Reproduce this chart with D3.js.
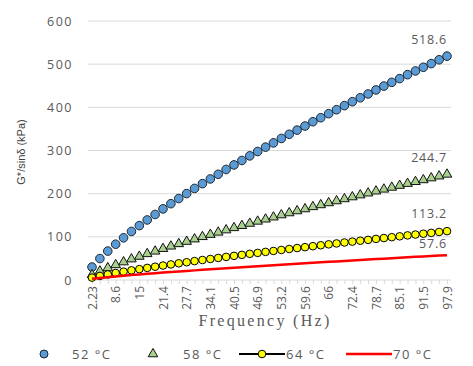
<!DOCTYPE html>
<html>
<head>
<meta charset="utf-8">
<script src="https://cdn.jsdelivr.net/npm/d3@7"></script>
<style>
  body { margin: 0; background: #fff; }
  svg { display: block; }
</style>
</head>
<body>
<svg id="svg"></svg>
<script>
// frequency categories (Hz)
const freqs = ["2.23","4.36","6.48","8.6","10.7","12.9","15","17.1","19.2","21.4","23.5","25.6",
  "27.7","29.9","32","34.1","36.2","38.4","40.5","42.6","44.8","46.9","49","51.1","53.2","55.4",
  "57.5","59.6","61.8","63.9","66","68.1","70.3","72.4","74.5","76.6","78.7","80.9","83","85.1",
  "87.3","89.4","91.5","93.6","95.8","97.9"];
const shownTicks = ["2.23","8.6","15","21.4","27.7","34.1","40.5","46.9","53.2","59.6","66",
  "72.4","78.7","85.1","91.5","97.9"];
const yTicks = [0, 100, 200, 300, 400, 500, 600];

const v52 = [29.9,49.7,67.0,82.9,97.7,112.5,126.0,139.1,151.8,164.8,176.8,188.7,200.2,212.1,
  223.2,234.1,244.9,256.1,266.6,276.9,287.6,297.7,307.8,317.6,327.9,337.6,347.2,356.7,366.7,
  375.9,385.3,394.4,404.0,413.1,422.1,431.0,440.3,449.2,457.9,466.6,475.7,484.3,492.8,501.3,
  510.2,518.6];
const v58 = [11.9,20.3,27.9,35.0,41.6,48.4,54.5,60.6,66.5,72.5,78.1,83.7,89.1,94.7,100.1,105.2,
  110.4,115.7,120.8,125.8,130.9,135.8,140.7,145.5,150.5,155.2,159.9,164.5,169.4,173.9,178.5,
  183.0,187.8,192.2,196.7,201.1,205.7,210.1,214.4,218.8,223.3,227.6,231.8,236.1,240.5,244.7];
const v64 = [5.5,9.4,12.9,16.2,19.3,22.4,25.2,28.0,30.8,33.5,36.1,38.7,41.2,43.8,46.3,48.7,51.1,
  53.5,55.9,58.2,60.6,62.8,65.1,67.3,69.6,71.8,74.0,76.1,78.3,80.5,82.6,84.7,86.9,88.9,91.0,
  93.0,95.2,97.2,99.2,101.2,103.3,105.3,107.2,109.2,111.3,113.2];
const v70 = [2.8,4.8,6.6,8.2,9.8,11.4,12.8,14.3,15.6,17.1,18.4,19.7,21.0,22.3,23.6,24.8,26.0,
  27.2,28.4,29.6,30.8,32.0,33.1,34.2,35.4,36.5,37.6,38.7,39.9,40.9,42.0,43.1,44.2,45.2,46.3,
  47.3,48.4,49.5,50.5,51.5,52.6,53.6,54.6,55.6,56.6,57.6];

const seriesNames = ["52 °C", "58 °C", "64 °C", "70 °C"];
const endLabels = ["518.6", "244.7", "113.2", "57.6"];

const w = 473, h = 366;
const svg = d3.select("#svg").attr("width", w).attr("height", h);

const x = d3.scalePoint().domain(freqs).range([92, 447]);
const y = d3.scaleLinear().domain([0, 600]).range([280, 21]);

const grey = "#595959";

// gridlines
svg.append("g")
  .selectAll("line")
  .data(yTicks.slice(1))
  .enter()
  .append("line")
  .attr("x1", 88).attr("x2", 451)
  .attr("y1", d => y(d)).attr("y2", d => y(d))
  .attr("stroke", "#d9d9d9").attr("stroke-width", 1);

// y axis labels
const yAxis = svg.append("g")
  .attr("transform", "translate(76,0)")
  .call(d3.axisLeft(y).tickValues(yTicks).tickSize(0).tickPadding(3));
yAxis.select(".domain").remove();
yAxis.selectAll("text")
  .attr("fill", grey)
  .style("font-family", "'Open Sans', sans-serif")
  .style("font-size", "12.5px")
  .style("letter-spacing", "1.5px");

// x axis
const xAxis = svg.append("g")
  .attr("transform", "translate(0,280)")
  .call(d3.axisBottom(x).tickSize(4).tickPadding(4)
    .tickFormat(d => shownTicks.includes(d) ? d : ""));
xAxis.select(".domain").attr("stroke", "#d9d9d9").attr("d", "M88,0H451");
xAxis.selectAll(".tick line").attr("stroke", "#d9d9d9");
xAxis.selectAll("text")
  .attr("fill", grey)
  .style("font-family", "'Open Sans', sans-serif")
  .style("font-size", "12px")
  .attr("transform", "rotate(-90)")
  .attr("text-anchor", "end")
  .attr("x", -6)
  .attr("y", 0)
  .attr("dy", "0.35em");

// axis titles
svg.append("text")
  .attr("x", 265).attr("y", 326)
  .attr("text-anchor", "middle")
  .attr("fill", grey)
  .style("font-family", "'Liberation Serif', serif")
  .style("font-size", "16px")
  .style("letter-spacing", "2.3px")
  .text("Frequency (Hz)");

svg.append("text")
  .attr("transform", "translate(25,152) rotate(-90)")
  .attr("text-anchor", "middle")
  .attr("fill", "#404040")
  .style("font-family", "'Liberation Sans', sans-serif")
  .style("font-size", "11px")
  .text("G*/sinδ (kPa)");

const line = d3.line().x((d, i) => x(freqs[i])).y(d => y(d));

// 52 °C circles
svg.append("g")
  .selectAll("circle")
  .data(v52)
  .enter()
  .append("circle")
  .attr("cx", (d, i) => x(freqs[i]))
  .attr("cy", d => y(d))
  .attr("r", 4.3)
  .attr("fill", "#5b9bd5")
  .attr("stroke", "#1c2833")
  .attr("stroke-width", 1);

// 58 °C triangles
const tri = d3.symbol().type(d3.symbolTriangle).size(40);
svg.append("g")
  .selectAll("path")
  .data(v58)
  .enter()
  .append("path")
  .attr("d", tri)
  .attr("transform", (d, i) => "translate(" + x(freqs[i]) + "," + y(d) + ")")
  .attr("fill", "#a9d18e")
  .attr("stroke", "#111")
  .attr("stroke-width", 1);

// 64 °C line + yellow circles
svg.append("path")
  .datum(v64)
  .attr("d", line)
  .attr("fill", "none")
  .attr("stroke", "#000")
  .attr("stroke-width", 2);
svg.append("g")
  .selectAll("circle")
  .data(v64)
  .enter()
  .append("circle")
  .attr("cx", (d, i) => x(freqs[i]))
  .attr("cy", d => y(d))
  .attr("r", 3.8)
  .attr("fill", "#ffff00")
  .attr("stroke", "#000")
  .attr("stroke-width", 1);

// 70 °C red line
svg.append("path")
  .datum(v70)
  .attr("d", line)
  .attr("fill", "none")
  .attr("stroke", "#ff0000")
  .attr("stroke-width", 2.5);

// end value labels
const lastVals = [v52, v58, v64, v70].map(s => s[s.length - 1]);
const labelOffsets = [-12, -12, -13, -7];
svg.append("g")
  .selectAll("text")
  .data(lastVals)
  .enter()
  .append("text")
  .attr("x", 447)
  .attr("y", (d, i) => y(d) + labelOffsets[i])
  .attr("text-anchor", "end")
  .attr("fill", grey)
  .style("font-family", "'Open Sans', sans-serif")
  .style("font-size", "12.5px")
  .style("letter-spacing", "0.8px")
  .text((d, i) => endLabels[i]);

// legend
const lg = svg.append("g").attr("transform", "translate(0,354)");
const legendFont = sel => sel.attr("fill", grey)
  .style("font-family", "'Open Sans', sans-serif")
  .style("font-size", "13px")
  .style("letter-spacing", "1.5px");

lg.append("circle").attr("cx", 44).attr("cy", 0).attr("r", 4)
  .attr("fill", "#5b9bd5").attr("stroke", "#1c2833");
lg.append("text").attr("x", 72).attr("y", 5).text(seriesNames[0]).call(legendFont);

lg.append("path").attr("d", tri).attr("transform", "translate(153,0)")
  .attr("fill", "#a9d18e").attr("stroke", "#111");
lg.append("text").attr("x", 183).attr("y", 5).text(seriesNames[1]).call(legendFont);

lg.append("line").attr("x1", 239).attr("x2", 285).attr("y1", 0).attr("y2", 0)
  .attr("stroke", "#000").attr("stroke-width", 2);
lg.append("circle").attr("cx", 262).attr("cy", 0).attr("r", 3.8)
  .attr("fill", "#ffff00").attr("stroke", "#000");
lg.append("text").attr("x", 286).attr("y", 5).text(seriesNames[2]).call(legendFont);

lg.append("line").attr("x1", 346).attr("x2", 392).attr("y1", 0).attr("y2", 0)
  .attr("stroke", "#ff0000").attr("stroke-width", 2.5);
lg.append("text").attr("x", 393).attr("y", 5).text(seriesNames[3]).call(legendFont);
</script>
</body>
</html>
